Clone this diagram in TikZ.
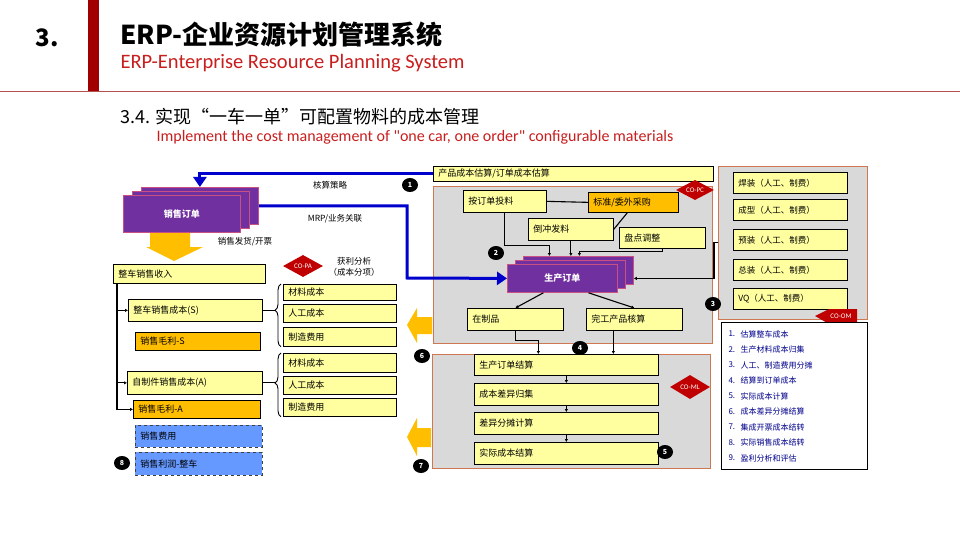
\documentclass[tikz,border=0pt]{standalone}
\usepackage{fontspec}
\setmainfont{Noto Sans CJK SC}
\newfontfamily\latinfont{Carlito}
\usepackage{tikz}
\usetikzlibrary{positioning,shapes.geometric,arrows.meta,decorations.pathreplacing,calc}
\definecolor{softY}{RGB}{255,255,160}
\definecolor{goldO}{RGB}{255,190,0}
\definecolor{blueD}{RGB}{102,153,255}
\definecolor{purp}{RGB}{112,48,160}
\definecolor{pinkB}{RGB}{200,80,130}
\definecolor{panelG}{RGB}{217,217,217}
\definecolor{panelB}{RGB}{205,120,80}
\definecolor{coRed}{RGB}{192,0,0}
\definecolor{blueL}{RGB}{0,0,204}
\definecolor{barRed}{RGB}{160,0,0}
\definecolor{lineRed}{RGB}{180,80,80}
\definecolor{titleRed}{RGB}{200,30,30}
\definecolor{listBlue}{RGB}{0,0,140}
\tikzset{
  cbox/.style={draw=black,line width=0.7pt,anchor=north west,inner xsep=5pt,inner ysep=1pt,align=left,font=\fontsize{9}{10}\selectfont},
  ybox/.style={cbox,fill=softY},
  obox/.style={cbox,fill=goldO},
  bbox/.style={cbox,fill=blueD,dashed,draw=black!75},
  pbox/.style={draw=pinkB,line width=0.8pt,fill=purp,anchor=north west,text=white,font=\fontsize{9}{10}\selectfont\bfseries},
  panel/.style={draw=panelB,fill=panelG,line width=0.8pt,anchor=north west,inner sep=0pt},
  num/.style={ellipse,fill=black,text=white,inner sep=0pt,minimum width=16pt,minimum height=14pt,font=\fontsize{7}{7}\selectfont\bfseries},
  codia/.style={diamond,aspect=1.8,fill=coRed,text=white,inner sep=0pt,minimum width=40pt,minimum height=22pt,font=\latinfont\fontsize{7}{7}\selectfont},
  lbl/.style={font=\fontsize{8.5}{11}\selectfont},
  line/.style={line width=1.1pt},
  conn/.style={line width=1.1pt,-{Latex[length=3pt,width=3.5pt]}},
  blueln/.style={draw=blueL,line width=3pt},
  brc/.style={line width=0.9pt,decorate,decoration={brace,amplitude=6pt,aspect=#1}},
  listno/.style={anchor=west,text=listBlue,font=\fontsize{8}{9}\selectfont},
}

\begin{document}
\begin{tikzpicture}[x=1pt,y=-1pt]
  \useasboundingbox (0,0) rectangle (960,540);
  \fill[white] (0,0) rectangle (960,540);
  % header
  \fill[barRed] (88,0) rectangle (99,91);
  \draw[lineRed,line width=0.8pt] (0,91) -- (960,91);
  \node[anchor=west,font=\fontsize{24}{24}\selectfont\bfseries] (secno) at (32,38) {3.};
  \node[anchor=west,font=\fontsize{26}{26}\selectfont\bfseries] (title) at (117,35) {ERP-企业资源计划管理系统};
  \node[anchor=west,text=titleRed,font=\latinfont\fontsize{20.5}{20.5}\selectfont] (subtitle) at (117,63) {ERP-Enterprise Resource Planning System};
  \node[anchor=west,font=\fontsize{18}{18}\selectfont] (sec) at (117,117) {3.4. 实现“一车一单”可配置物料的成本管理};
  \node[anchor=west,text=titleRed,font=\latinfont\fontsize{16}{16}\selectfont] (secen) at (153,137) {Implement the cost management of "one car, one order" configurable materials};

  % grey panels
  \node[panel,minimum width=279pt,minimum height=157pt] (topP) at (433,186) {};
  \node[panel,minimum width=278pt,minimum height=114pt] (botP) at (432,354) {};
  \node[panel,minimum width=149pt,minimum height=153pt] (rightP) at (718,166) {};

  % sales order stack
  \node[pbox,minimum width=117pt,minimum height=37pt] (so3) at (141,187) {};
  \node[pbox,minimum width=117pt,minimum height=37pt] (so2) at (132,191) {};
  \node[pbox,minimum width=117pt,minimum height=37pt] (so1) at (123,195) {销售订单};
  \fill[goldO] (150,233) -- (190,233) -- (190,247) -- (203,247) -- (174,261) -- (146,247) -- (150,247) -- cycle;

  % estimate and blue flows
  \node[ybox,text width=270pt,minimum height=15pt] (est) at (433,166) {产品成本估算/订单成本估算};
  \node[pbox,minimum width=110pt,minimum height=28pt] (po3) at (523,256) {};
  \node[pbox,minimum width=110pt,minimum height=28pt] (po2) at (515,260) {};
  \node[pbox,minimum width=110pt,minimum height=28pt] (po1) at (507,264) {生产订单};
  \coordinate (mrpc) at (407,278);
  \draw[blueln,-{Triangle[width=13pt,length=10pt]}] (est.west) -| (so3.north);
  \draw[blueln,-{Triangle[width=13pt,length=10pt]}] (so3.east) -| (mrpc) -- (po1.west);
  \node[lbl] (strat) at (330,185) {核算策略};
  \node[lbl] (mrp) at (335,219) {MRP/业务关联};
  \node[lbl] (ship) at (245,242) {销售发货/开票};
  \node[num] (n1) at (410,185) {1};

  % sales tree
  \node[ybox,text width=142pt,minimum height=19pt] (sellIn) at (113,264) {整车销售收入};
  \node[codia] (copa) at (303,266) {CO-PA};
  \node[lbl,align=center] (prof) at (354,267) {获利分析\\（成本分项）};
  \node[ybox,text width=124pt,minimum height=22pt] (costS) at (128,299) {整车销售成本(S)};
  \node[obox,text width=115pt,minimum height=18pt] (gmS) at (135,332) {销售毛利-S};
  \node[ybox,text width=125pt,minimum height=23pt] (costA) at (127,371) {自制件销售成本(A)};
  \node[obox,text width=117pt,minimum height=18pt] (gmA) at (133,400) {销售毛利-A};
  \node[bbox,text width=117pt,minimum height=22pt] (selExp) at (135,425) {销售费用};
  \node[bbox,text width=117pt,minimum height=23pt] (selProf) at (135,452) {销售利润-整车};
  \node[num] (n8) at (122,463) {8};
  \coordinate (trunk) at ([xshift=4pt]sellIn.south west);
  \draw[conn] (trunk) |- (gmA.west);
  \draw[conn] (trunk |- costS.west) -- (costS.west);
  \draw[conn] (trunk |- costA.west) -- (costA.west);

  % cost elements
  \node[ybox,text width=103pt,minimum height=16pt] (mat1) at (283,284) {材料成本};
  \node[ybox,text width=103pt,minimum height=18pt] (lab1) at (283,304) {人工成本};
  \node[ybox,text width=103pt,minimum height=19pt] (ovh1) at (283,327) {制造费用};
  \node[ybox,text width=103pt,minimum height=19pt] (mat2) at (283,353) {材料成本};
  \node[ybox,text width=103pt,minimum height=18pt] (lab2) at (283,376) {人工成本};
  \node[ybox,text width=103pt,minimum height=18pt] (ovh2) at (283,398) {制造费用};
  \draw[brc=0.58] ([xshift=-2pt]ovh1.south west) -- ([xshift=-2pt]mat1.north west);
  \draw[brc=0.53] ([xshift=-2pt]ovh2.south west) -- ([xshift=-2pt]mat2.north west);
  \coordinate (tip1) at ($(mat1.west |- costS.east)+(-8,0)$);
  \coordinate (tip2) at ($(mat2.west |- costA.east)+(-8,0)$);
  \draw[line,line width=0.9pt] (costS.east) -- (tip1);
  \draw[line,line width=0.9pt] (costA.east) -- (tip2);
  \fill[goldO] (432,317) -- (417,317) -- (417,308) -- (407,325) -- (417,343) -- (417,334) -- (432,334) -- cycle;
  \fill[goldO] (431,428) -- (417,428) -- (417,418) -- (407,437) -- (417,456) -- (417,447) -- (431,447) -- cycle;
  \node[num] (n6) at (422,356) {6};
  \node[num] (n7) at (421,466) {7};

  % production panel
  \node[ybox,text width=73pt,minimum height=22pt] (byOrd) at (463,190) {按订单投料};
  \node[obox,text width=80pt,minimum height=20pt] (stdPur) at (588,192) {标准/委外采购};
  \node[ybox,text width=75pt,minimum height=22pt] (backf) at (528,218) {倒冲发料};
  \node[ybox,text width=76pt,minimum height=21pt] (invAdj) at (619,227) {盘点调整};
  \node[codia,minimum width=38pt,minimum height=20pt] (copc) at (695,190) {CO-PC};
  \node[num] (n2) at (496,253) {2};
  \draw[line] (byOrd.east) -- (stdPur.west);
  \draw[line] ([xshift=-6pt]stdPur.south) -- (backf.east);
  \coordinate (tipA) at ($(po3.north)+(-29,0)$);
  \coordinate (tipC) at ($(po3.north)+(1,0)$);
  \draw[conn] (byOrd.south) -- ++(0,33) -| (tipA);
  \draw[conn] (backf.south) -- (backf.south |- po3.north);
  \draw[conn] (invAdj.south) -- ++(0,3) -| (tipC);
  \draw[conn] (rightP.west) -- ++(-4,0) |- (po1.east -| po3.east);
  \node[ybox,text width=86pt,minimum height=22pt] (wip) at (467,308) {在制品};
  \node[ybox,text width=86pt,minimum height=22pt] (fin) at (586,308) {完工产品核算};
  \draw[conn] ([xshift=-19pt]po1.south) -- (wip.north);
  \draw[conn] ([xshift=26pt]po1.south) -- (fin.north);
  \node[num] (n3) at (713,304) {3};

  % settlement panel
  \node[ybox,text width=174pt,minimum height=21pt] (settle) at (474,354) {生产订单结算};
  \node[ybox,text width=174pt,minimum height=22pt] (varCol) at (474,383) {成本差异归集};
  \node[ybox,text width=174pt,minimum height=22pt] (varAll) at (474,412) {差异分摊计算};
  \node[ybox,text width=174pt,minimum height=22pt] (actual) at (474,442) {实际成本结算};
  \node[codia,minimum height=24pt] (coml) at (690,387) {CO-ML};
  \node[num] (n4) at (580,348) {4};
  \node[num] (n5) at (665,452) {5};
  \coordinate (tipD) at ([xshift=-28pt]settle.north);
  \coordinate (finb) at ([xshift=-21pt]fin.south);
  \draw[conn] (wip.south) -- ++(0,10) -| (tipD);
  \draw[conn] (finb) -- (finb |- settle.north);
  \draw[conn] (settle.south) -- (varCol.north);
  \draw[conn] (varCol.south) -- (varAll.north);
  \draw[conn] (varAll.south) -- (actual.north);

  % work centres
  \foreach \n/\y/\t in {weld/172/焊装,form/199/成型,pre/229/预装,asm/259/总装,vq/288/VQ}{
    \node[ybox,text width=104pt,minimum height=21pt,font=\fontsize{8.5}{10}\selectfont] (\n) at (733,\y) {\t（人工、制费）};
  }
  \fill[coRed] (815,316) -- (829,309) -- (857,309) -- (857,324) -- (829,324) -- cycle;
  \node[text=white,font=\latinfont\fontsize{7}{7}\selectfont] (coom) at (841,316) {CO-OM};

  % step list
  \node[draw=black,line width=0.8pt,fill=white,anchor=north west,inner sep=0pt,minimum width=146pt,minimum height=147pt] (steps) at (721,322) {};
  \foreach \i/\t in {1/估算整车成本,2/生产材料成本归集,3/人工、制造费用分摊,4/结算到订单成本,5/实际成本计算,6/成本差异分摊结算,7/集成开票成本结转,8/实际销售成本结转,9/盈利分析和评估}{
    \node[listno] (sn\i) at (725,{334+(\i-1)*15.5}) {\i.};
    \node[listno] (st\i) at (737,{334+(\i-1)*15.5}) {\t};
  }
\end{tikzpicture}
\end{document}
